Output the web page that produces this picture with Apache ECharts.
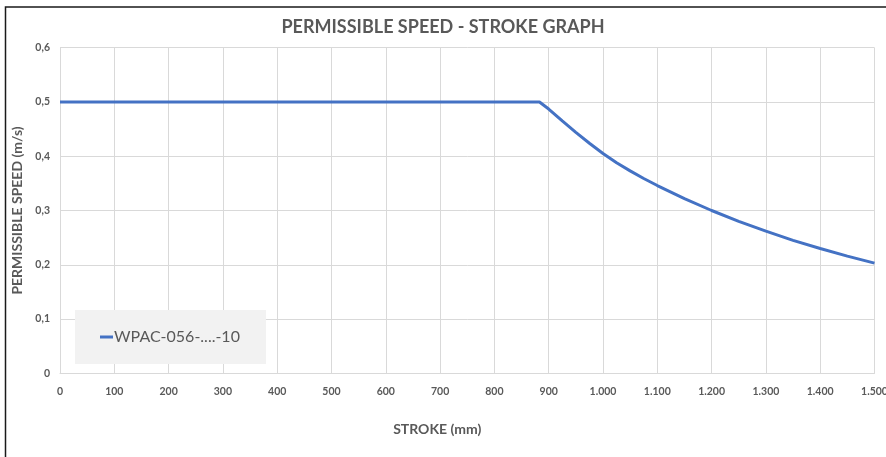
<!DOCTYPE html>
<html>
<head>
<meta charset="utf-8">
<script src="https://cdn.jsdelivr.net/npm/echarts@6/dist/echarts.min.js"></script>
<style>
html,body{margin:0;padding:0;background:#fff;}
#chart{width:886px;height:457px;}
</style>
</head>
<body>
<div id="chart"></div>
<script>
const seriesName = 'WPAC-056-....-10';
const stroke = [0, 883, 900, 925, 950, 975, 1000, 1025, 1050, 1075, 1100, 1125, 1150, 1200, 1250, 1300, 1350, 1400, 1450, 1500];
const speed  = [0.5, 0.5, 0.487, 0.465, 0.444, 0.424, 0.405, 0.388, 0.373, 0.359, 0.346, 0.334, 0.322, 0.300, 0.280, 0.262, 0.245, 0.230, 0.216, 0.203];
const titleText = 'PERMISSIBLE SPEED - STROKE GRAPH';
const xName = 'STROKE (mm)';
const yName = 'PERMISSIBLE SPEED (m/s)';

const FONT = 'Lato, "Open Sans", sans-serif';
const GRAY = '#595959';
const chart = echarts.init(document.getElementById('chart'));
chart.setOption({
  animation: false,
  backgroundColor: '#fff',
  title: {
    text: titleText, left: 'center', top: 13,
    textStyle: {fontFamily: FONT, fontSize: 18, fontWeight: 'bold', color: GRAY}
  },
  graphic: [{
    type: 'rect', shape: {x: 5.5, y: 7, width: 900, height: 480},
    style: {fill: null, stroke: '#1a1a1a', lineWidth: 1.5}, silent: true, z: 100
  }],
  legend: {
    left: 75, top: 310, orient: 'horizontal',
    backgroundColor: '#f2f2f2',
    padding: [19, 26, 19, 25],
    itemWidth: 13, itemHeight: 3, itemGap: 5,
    icon: 'rect',
    textStyle: {fontFamily: FONT, fontSize: 16, color: GRAY, padding: [0, 0, 0, -4]},
    data: [seriesName]
  },
  grid: {left: 60, right: 11.5, top: 47.7, bottom: 83.7, containLabel: false, outerBoundsMode: 'none'},
  xAxis: {
    type: 'value', min: 0, max: 1500, interval: 100,
    name: xName, nameLocation: 'middle', nameGap: 49,
    nameTextStyle: {fontFamily: FONT, fontSize: 14, fontWeight: 'bold', color: GRAY, padding: [0, 60, 0, 0]},
    axisLine: {show: true, lineStyle: {color: '#d9d9d9', width: 1}},
    axisTick: {show: false},
    splitLine: {show: true, lineStyle: {color: '#d9d9d9', width: 1}},
    axisLabel: {
      fontFamily: FONT, fontSize: 10.5, fontWeight: 'bold', color: GRAY, margin: 13,
      formatter: v => String(v).replace(/\B(?=(\d{3})+(?!\d))/g, '.')
    }
  },
  yAxis: {
    type: 'value', min: 0, max: 0.6, interval: 0.1,
    name: yName, nameLocation: 'middle', nameGap: 35, nameRotate: 90,
    nameTextStyle: {fontFamily: FONT, fontSize: 14, fontWeight: 'bold', color: GRAY},
    axisLine: {show: false},
    axisTick: {show: false},
    splitLine: {show: true, lineStyle: {color: '#d9d9d9', width: 1}},
    axisLabel: {
      fontFamily: FONT, fontSize: 10.5, fontWeight: 'bold', color: GRAY, margin: 10,
      formatter: v => v === 0 ? '0' : (Math.round(v * 10) / 10).toFixed(1).replace('.', ',')
    }
  },
  series: [{
    name: seriesName, type: 'line',
    data: stroke.map((s, i) => [s, speed[i]]),
    showSymbol: false, symbol: 'none', smooth: false,
    lineStyle: {color: '#4472C4', width: 3},
    itemStyle: {color: '#4472C4'}
  }]
});
</script>
</body>
</html>
